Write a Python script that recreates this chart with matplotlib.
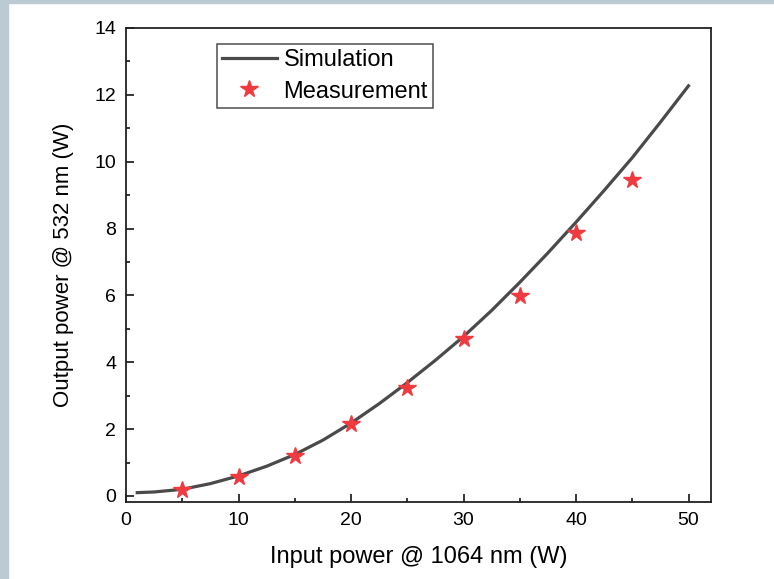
import matplotlib.pyplot as plt
from matplotlib.patches import Rectangle

plt.rcParams['font.family'] = ['Liberation Sans', 'DejaVu Sans']

# simulation curve
sim_x = [1, 2.5, 5, 7.5, 10, 12.5, 15, 17.5, 20, 22.5, 25, 27.5, 30, 32.5, 35, 37.5, 40, 42.5, 45, 47.5, 50]
sim_y = [0.1, 0.12, 0.2, 0.37, 0.6, 0.89, 1.24, 1.67, 2.18, 2.76, 3.39, 4.06, 4.77, 5.55, 6.39, 7.27, 8.19,
         9.14, 10.12, 11.18, 12.27]

# measured points
meas_x = [5, 10, 15, 20, 25, 30, 35, 40, 45]
meas_y = [0.18, 0.57, 1.19, 2.15, 3.22, 4.69, 5.97, 7.88, 9.46]

fig = plt.figure(figsize=(7.74, 5.79), dpi=100, facecolor='white')
# grey frame strips of the screenshot
fig.patches.append(Rectangle((0, 0), 8 / 774, 1, transform=fig.transFigure, color='#bccbd3', zorder=0))
fig.patches.append(Rectangle((0, 1 - 3 / 579), 1, 3 / 579, transform=fig.transFigure, color='#bccbd3', zorder=0))

ax = fig.add_axes([126 / 774, 77 / 579, 585 / 774, 474 / 579])
ax.plot(sim_x, sim_y, color='#4a4a4a', lw=2.3, label='Simulation')
ax.plot(meas_x, meas_y, ls='none', marker='*', ms=13, color='#ef3b40', label='Measurement')

ax.set_xlim(0, 52)
ax.set_ylim(-0.18, 14)
ax.set_xticks([0, 10, 20, 30, 40, 50])
ax.set_xticks([5, 15, 25, 35, 45], minor=True)
ax.set_yticks(range(0, 15, 2))
ax.set_yticks(range(1, 14, 2), minor=True)
ax.tick_params(which='both', direction='in', top=False, right=False, width=1.1, labelsize=14)
ax.tick_params(axis='x', pad=7.5)
ax.tick_params(axis='y', pad=7)
ax.tick_params(which='major', length=5.8)
ax.tick_params(which='minor', length=3)
for s in ax.spines.values():
    s.set_linewidth(1.3)
    s.set_color('#222222')

ax.set_xlabel('Input power @ 1064 nm (W)', fontsize=17, labelpad=12)
ax.set_ylabel('Output power @ 532 nm (W)', fontsize=16, labelpad=15)

leg = ax.legend(loc='upper left', bbox_to_anchor=(0.1556, 0.966), fontsize=17, frameon=True,
                fancybox=False, edgecolor='#222222', borderpad=0.22, handlelength=2.3,
                handletextpad=0.3, labelspacing=0.4, borderaxespad=0)
leg.get_frame().set_linewidth(1.1)

plt.savefig('out.png', dpi=100, facecolor=fig.get_facecolor())
